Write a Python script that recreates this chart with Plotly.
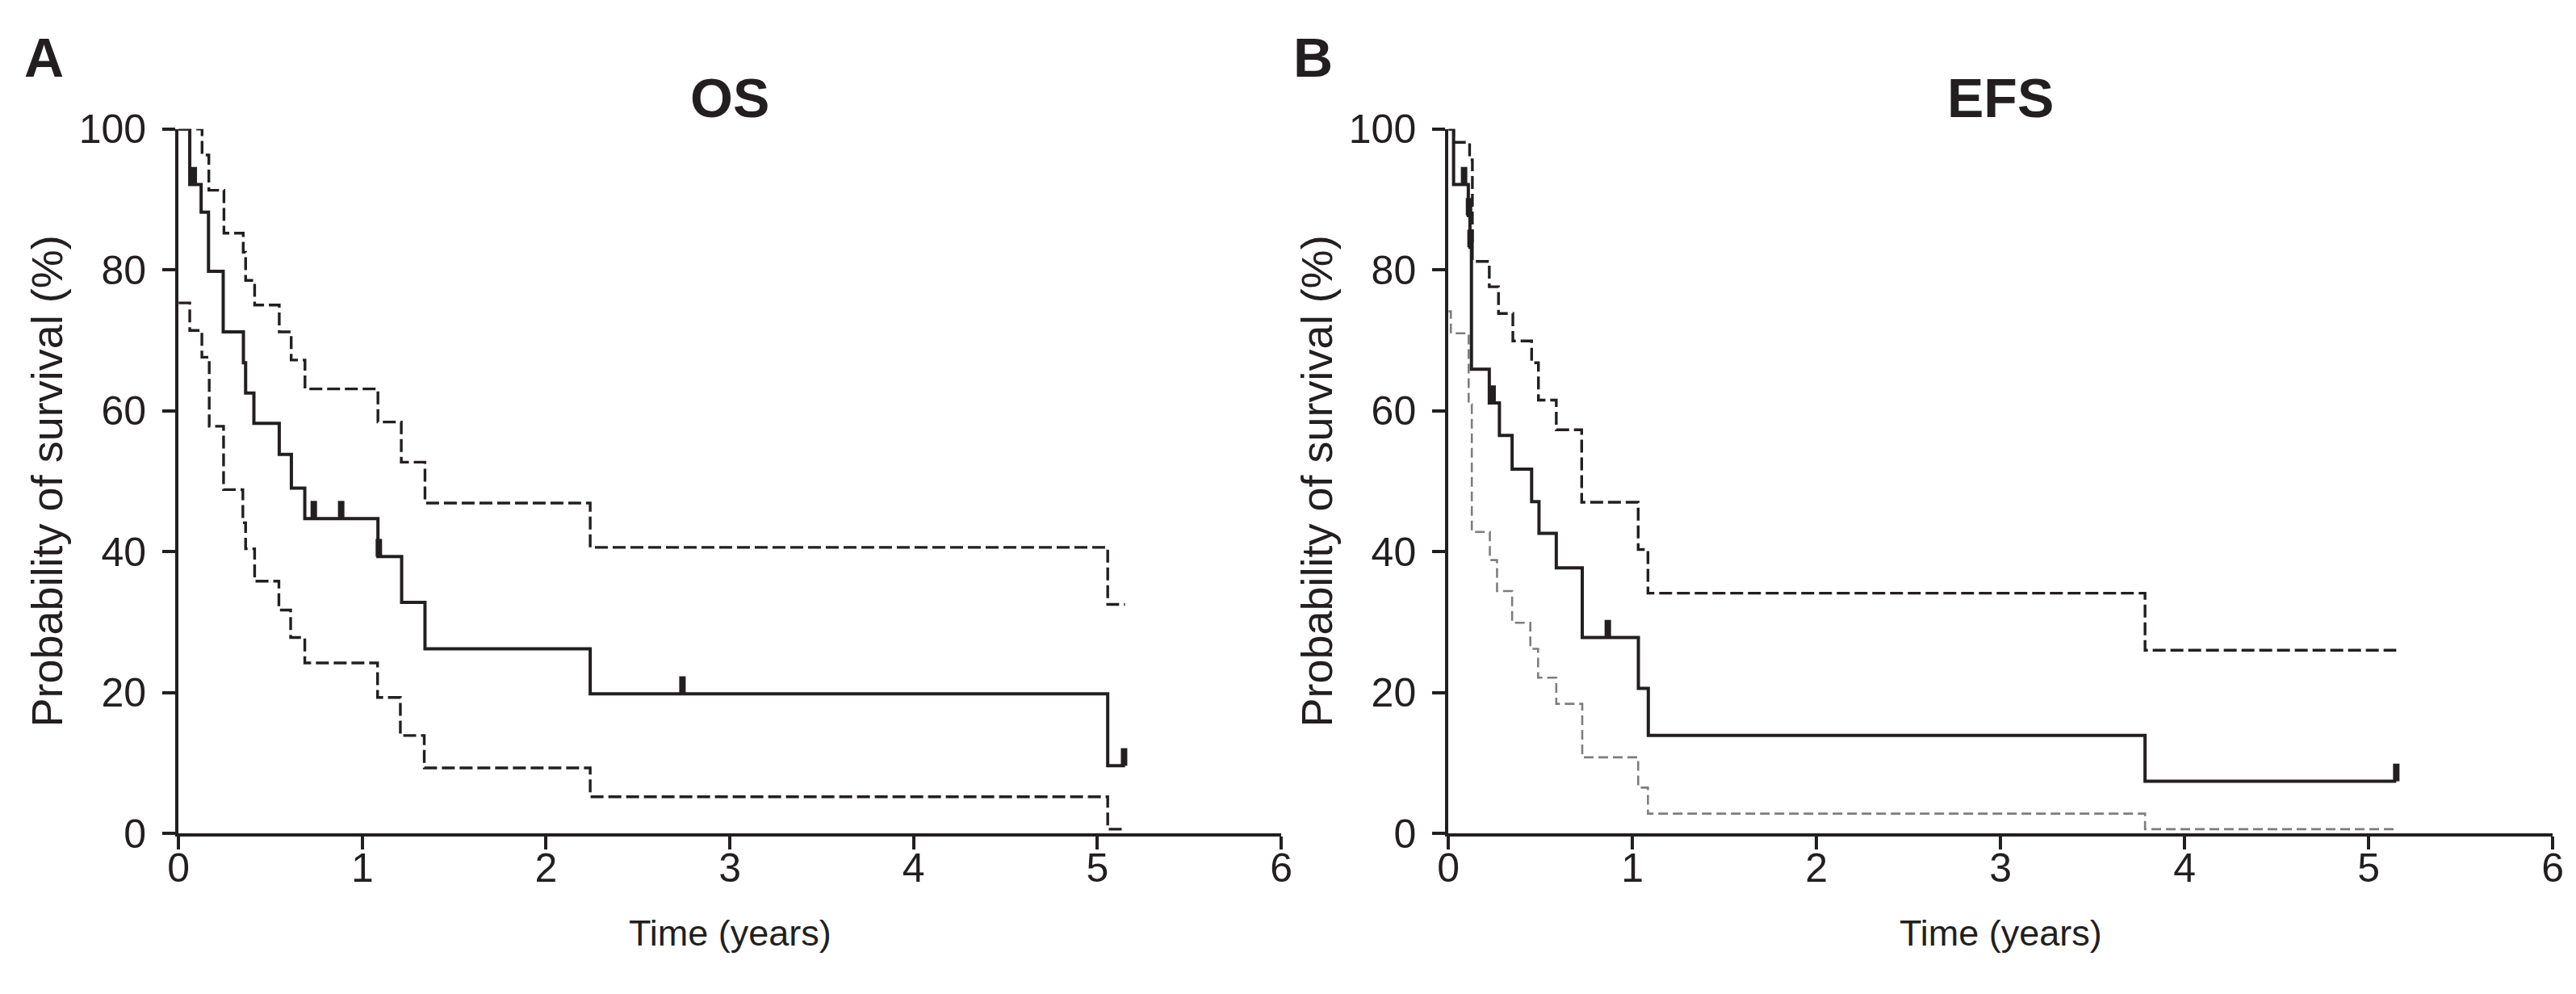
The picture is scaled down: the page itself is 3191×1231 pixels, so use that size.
import plotly.graph_objects as go

# ---------------- Data ----------------
# Panel A: OS
os_time = [0, 0.061, 0.123, 0.163, 0.243, 0.353, 0.365, 0.41, 0.548, 0.614, 0.687, 1.085, 1.214, 1.341, 2.24, 5.056, 5.15]
os_surv = [100, 92.1, 88.2, 79.8, 71.2, 66.8, 62.5, 58.2, 53.8, 49.0, 44.7, 39.3, 32.8, 26.2, 19.8, 9.6, 9.6]
os_hi_time = [0, 0.128, 0.165, 0.247, 0.352, 0.365, 0.414, 0.548, 0.613, 0.688, 1.085, 1.212, 1.341, 2.24, 5.056, 5.15]
os_hi = [100, 96.3, 91.3, 85.2, 82.5, 78.5, 75.0, 71.2, 67.2, 63.1, 58.4, 52.7, 46.9, 40.6, 32.5, 32.5]
os_lo_time = [0, 0.061, 0.127, 0.167, 0.245, 0.35, 0.365, 0.414, 0.546, 0.61, 0.687, 1.083, 1.207, 1.337, 2.24, 5.056, 5.15]
os_lo = [75.3, 71.4, 67.6, 57.8, 48.8, 44.1, 40.4, 35.8, 31.7, 27.8, 24.2, 19.3, 13.9, 9.3, 5.2, 0.6, 0.6]
os_cens_time = [0.083, 0.736, 0.885, 1.09, 2.742, 5.145]
os_cens_surv = [92.1, 44.7, 44.7, 39.3, 19.8, 9.6]

# Panel B: EFS
efs_time = [0, 0.028, 0.108, 0.117, 0.125, 0.222, 0.277, 0.346, 0.452, 0.492, 0.586, 0.727, 1.032, 1.086, 3.785, 5.15]
efs_surv = [100, 92.1, 87.7, 83.2, 65.9, 61.1, 56.5, 51.7, 47.1, 42.6, 37.7, 27.8, 20.6, 13.9, 7.4, 7.4]
efs_hi_time = [0, 0.028, 0.115, 0.13, 0.222, 0.272, 0.35, 0.452, 0.489, 0.586, 0.724, 1.031, 1.084, 3.785, 5.15]
efs_hi = [100, 98.1, 95.6, 81.2, 77.6, 73.8, 69.9, 66.8, 61.5, 57.3, 47.0, 40.3, 34.1, 26.0, 26.0]
efs_lo_time = [0, 0.013, 0.11, 0.127, 0.225, 0.264, 0.346, 0.445, 0.487, 0.586, 0.727, 1.031, 1.084, 3.785, 5.15]
efs_lo = [74.1, 71.0, 60.9, 42.8, 38.8, 34.4, 29.9, 26.2, 22.1, 18.4, 10.8, 6.5, 2.8, 0.6, 0.6]
efs_cens_time = [0.085, 0.112, 0.12, 0.24, 0.866, 5.15]
efs_cens_surv = [92.1, 87.7, 83.2, 61.1, 27.8, 7.4]

x_ticks = [0, 1, 2, 3, 4, 5, 6]
y_ticks = [0, 20, 40, 60, 80, 100]
panel_titles = ["OS", "EFS"]
panel_letters = ["A", "B"]
x_title = "Time (years)"
y_title = "Probability of survival (%)"

# ---------------- Styling ----------------
INK = "#231f20"
FONT = "Liberation Sans, Arial, Helvetica, sans-serif"
CENS_H = 2.5  # height of censoring tick in % units

fig = go.Figure()


def add_panel(xa, ya, t, s, th, sh, tl, sl, ct, cs, lo_color, lo_width, lo_dash):
    fig.add_trace(go.Scatter(x=th, y=sh, mode="lines", line_shape="hv",
                             line=dict(color=INK, width=3.4, dash="16px,6px"),
                             xaxis=xa, yaxis=ya, cliponaxis=False, showlegend=False))
    fig.add_trace(go.Scatter(x=tl, y=sl, mode="lines", line_shape="hv",
                             line=dict(color=lo_color, width=lo_width, dash=lo_dash),
                             xaxis=xa, yaxis=ya, cliponaxis=False, showlegend=False))
    fig.add_trace(go.Scatter(x=t, y=s, mode="lines", line_shape="hv",
                             line=dict(color=INK, width=4),
                             xaxis=xa, yaxis=ya, cliponaxis=False, showlegend=False))
    cx, cy = [], []
    for a, b in zip(ct, cs):
        cx += [a, a, None]
        cy += [b, b + CENS_H, None]
    fig.add_trace(go.Scatter(x=cx, y=cy, mode="lines",
                             line=dict(color=INK, width=8),
                             xaxis=xa, yaxis=ya, cliponaxis=False, showlegend=False))


add_panel("x", "y", os_time, os_surv, os_hi_time, os_hi, os_lo_time, os_lo,
          os_cens_time, os_cens_surv, INK, 3.4, "16px,6px")
add_panel("x2", "y2", efs_time, efs_surv, efs_hi_time, efs_hi, efs_lo_time, efs_lo,
          efs_cens_time, efs_cens_surv, "#7d7d7d", 2.6, "12px,6px")

W, H = 3191, 1231
xdomA = [209 / W, 1587 / W]
xdomB = [1796 / W, 3176 / W]
TOP, BOT = 139, 1053
ydom = [(H - BOT) / H, (H - TOP) / H]

axis_common = dict(showline=True, linecolor=INK, linewidth=4, ticks="outside",
                   ticklen=16, tickwidth=4, tickcolor=INK, showgrid=False, zeroline=False,
                   tickfont=dict(family=FONT, size=50, color=INK), mirror=False)

fig.update_layout(
    width=W, height=H,
    margin=dict(l=0, r=0, t=0, b=0),
    paper_bgcolor="white", plot_bgcolor="white",
    xaxis=dict(domain=xdomA, range=[0, 6], tickvals=x_ticks, anchor="y",
               ticklabelstandoff=-20, **axis_common),
    yaxis=dict(domain=ydom, range=[0, 100], tickvals=y_ticks, anchor="x",
               ticklabelstandoff=10, **axis_common),
    xaxis2=dict(domain=xdomB, range=[0, 6], tickvals=x_ticks, anchor="y2",
                ticklabelstandoff=-20, **axis_common),
    yaxis2=dict(domain=ydom, range=[0, 100], tickvals=y_ticks, anchor="x2",
                ticklabelstandoff=10, **axis_common),
)

anns = []
for dom, title, letter, ylab_x, letter_x in [
    (xdomA, panel_titles[0], panel_letters[0], 44, 14),
    (xdomB, panel_titles[1], panel_letters[1], 1631, 1600),
]:
    cx = (dom[0] + dom[1]) / 2
    anns.append(dict(text=f"<b>{title}</b>", x=cx, y=(H - 99) / H, xref="paper", yref="paper",
                     xanchor="center", yanchor="middle", showarrow=False,
                     font=dict(family=FONT, size=68, color=INK)))
    anns.append(dict(text=f"<b>{letter}</b>", x=letter_x / W, y=(H - 46) / H, xref="paper", yref="paper",
                     xanchor="left", yanchor="middle", showarrow=False,
                     font=dict(family=FONT, size=68, color=INK)))
    anns.append(dict(text=x_title, x=cx, y=(H - 1182) / H, xref="paper", yref="paper",
                     xanchor="center", yanchor="middle", showarrow=False,
                     font=dict(family=FONT, size=45, color=INK)))
    anns.append(dict(text=y_title, x=ylab_x / W, y=(ydom[0] + ydom[1]) / 2, xref="paper", yref="paper",
                     xanchor="center", yanchor="middle", showarrow=False, textangle=-90,
                     font=dict(family=FONT, size=54, color=INK)))
fig.update_layout(annotations=anns)

fig.write_html("out.html",
               config={"displayModeBar": False},
               post_script="document.body.style.margin='0px';document.body.style.overflow='hidden';")
